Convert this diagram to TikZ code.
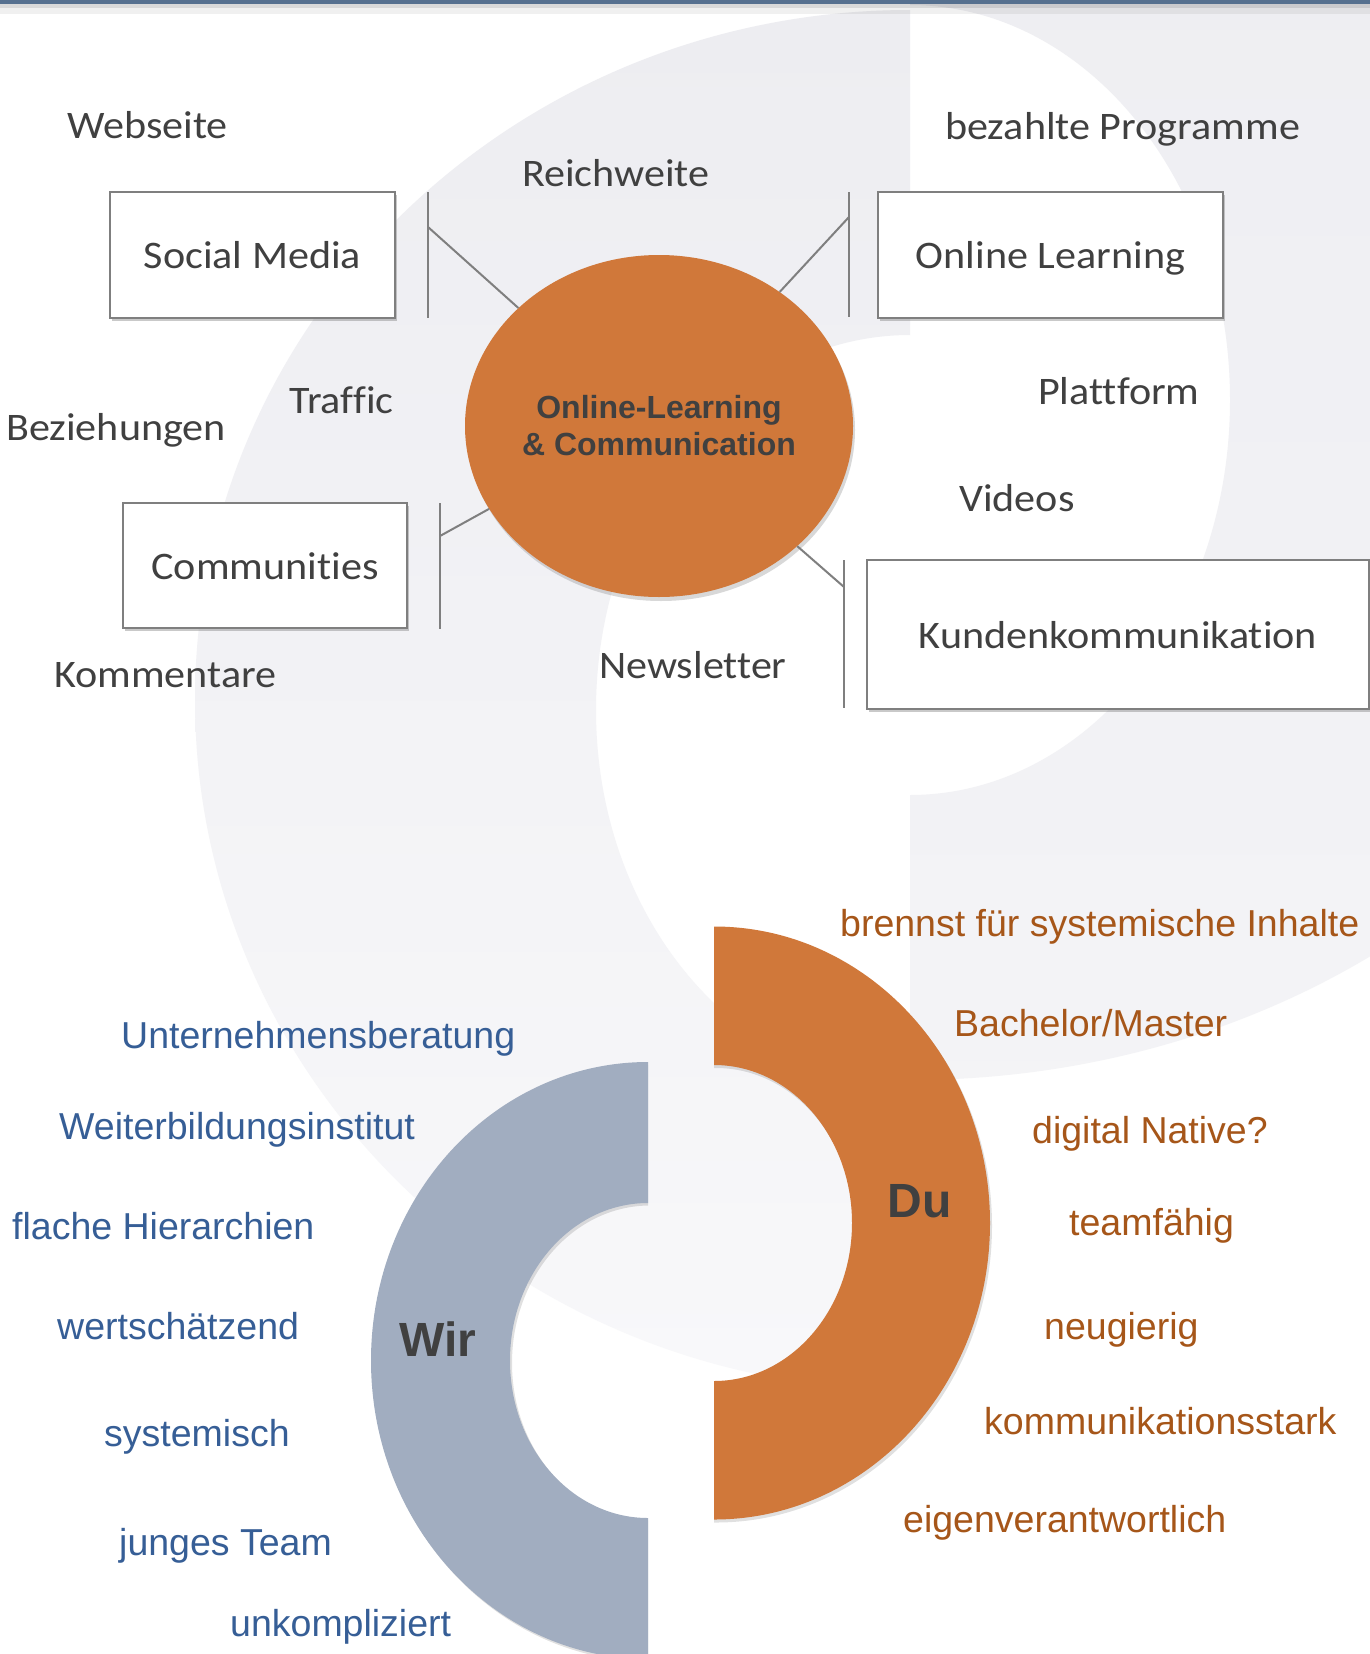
\documentclass[tikz,border=0pt]{standalone}
\usepackage{fontspec}
\usetikzlibrary{shapes.geometric,shadows}
\newfontfamily\calfont[FakeStretch=1.08,Ligatures=NoCommon]{Carlito}
\newfontfamily\arialfont{Liberation Sans}
\definecolor{txtgray}{HTML}{404040}
\definecolor{linegray}{HTML}{7F7F7F}
\definecolor{orangec}{HTML}{D0783A}
\definecolor{wirc}{HTML}{A1ADC0}
\definecolor{bluetxt}{HTML}{365E96}
\definecolor{browntxt}{HTML}{A65619}
\definecolor{bgA}{HTML}{EDEDF1}
\definecolor{bgB}{HTML}{F8F8FA}
\definecolor{topband}{HTML}{56708F}
\begin{document}
\begin{tikzpicture}[x=1pt,y=-1pt,
  lab/.style={font=\calfont\fontsize{39}{47}\selectfont, text=txtgray, anchor=base west, inner sep=0pt},
  blu/.style={font=\arialfont\fontsize{37.5}{45}\selectfont, text=bluetxt, anchor=base west, inner sep=0pt},
  brn/.style={font=\arialfont\fontsize{37.5}{45}\selectfont, text=browntxt, anchor=base west, inner sep=0pt},
  box/.style={draw=linegray, line width=2.2pt, fill=white, inner sep=0pt,
    font=\calfont\fontsize{39}{47}\selectfont, text=txtgray, text height=27pt, text depth=0pt,
    drop shadow={shadow xshift=1.5pt, shadow yshift=-3pt, opacity=0.35, fill=black!60}},
  conn/.style={draw=linegray, line width=2pt},
  big/.style={font=\arialfont\bfseries\fontsize{48}{50}\selectfont, text=txtgray, anchor=base, inner sep=0pt}
]
\useasboundingbox (0,0) rectangle (1370,1654);
\fill[white] (0,0) rectangle (1370,1654);
% background logo
\begin{scope}
  \clip (0,0) rectangle (910,1654);
  \shade[top color=bgA, bottom color=bgB, even odd rule]
    (910,700) ellipse [x radius=715, y radius=690]
    (910,710) ellipse [x radius=314, y radius=375];
\end{scope}
\begin{scope}
  \clip (910,0) rectangle (1370,1654);
  \shade[top color=bgA, bottom color=bgB!60!bgA, even odd rule]
    (910,400) ellipse [x radius=800, y radius=680]
    (910,400) ellipse [x radius=320, y radius=395];
\end{scope}
% top band
\fill[topband] (0,0) rectangle (1370,4);
\fill[black, opacity=0.15] (0,4) rectangle (1370,8);
\fill[black, opacity=0.06] (0,8) rectangle (1370,14);

% labels upper
\node[lab] (webseite) at (67,138) {Webseite};
\node[lab] (reichweite) at (522,186) {Reichweite};
\node[lab] (bezahlt) at (945,139) {bezahlte Programme};
\node[lab] (traffic) at (289,413) {Traffic};
\node[lab] (bezieh) at (6,440) {Beziehungen};
\node[lab] (plattform) at (1038,404) {Plattform};
\node[lab] (videos) at (959,511) {Videos};
\node[lab] (kommentare) at (54,687) {Kommentare};
\node[lab] (newsletter) at (599,678) {Newsletter};

% boxes
\node[box, minimum width=285pt, minimum height=126pt] (social) at (252.5,255) {Social Media};
\node[box, minimum width=345pt, minimum height=126pt] (online) at (1050.5,255) {Online Learning};
\node[box, minimum width=284pt, minimum height=125pt] (commun) at (265,565.5) {Communities};
\node[box, minimum width=502pt, minimum height=149pt] (kunden) at (1118,634.5) {Kundenkommunikation};

% central ellipse
\node[ellipse, fill=orangec, minimum width=388pt, minimum height=342pt, inner sep=0pt,
  drop shadow={shadow xshift=2pt, shadow yshift=-4pt, opacity=0.25, fill=black!60},
  font=\arialfont\bfseries\fontsize{32}{37}\selectfont, text=txtgray, align=center]
  (olc) at (659,426) {Online-Learning\\\& Communication};

% connectors
\coordinate (sbT) at (428,192); \coordinate (sbB) at (428,318); \coordinate (sbJ) at (428,227);
\coordinate (obT) at (849,192); \coordinate (obB) at (849,317); \coordinate (obJ) at (849,217);
\coordinate (cbT) at (440,503); \coordinate (cbB) at (440,629); \coordinate (cbJ) at (440,536);
\coordinate (kbT) at (844,560); \coordinate (kbB) at (844,708); \coordinate (kbJ) at (844,587);
\draw[conn] (sbT) -- (sbB);
\draw[conn] (sbJ) -- (olc.140.8);
\draw[conn] (obT) -- (obB);
\draw[conn] (obJ) -- (olc.48.8);
\draw[conn] (cbT) -- (cbB);
\draw[conn] (cbJ) -- (olc.206.8);
\draw[conn] (kbT) -- (kbB);
\draw[conn] (kbJ) -- (olc.-41);

% Wir ring
\begin{scope}
  \clip (0,0) rectangle (648,1654);
  \fill[black, opacity=0.12, even odd rule]
    (650,1363) ellipse [x radius=277, y radius=298.5]
    (650,1363) ellipse [x radius=138, y radius=157.5];
  \fill[wirc, even odd rule]
    (648,1360.5) ellipse [x radius=277, y radius=298.5]
    (648,1360.5) ellipse [x radius=138, y radius=157.5];
\end{scope}
% Du ring
\begin{scope}
  \clip (714,0) rectangle (1370,1654);
  \fill[black, opacity=0.12, even odd rule]
    (716,1226) ellipse [x radius=276, y radius=296.5]
    (716,1226) ellipse [x radius=138, y radius=158];
  \fill[orangec, even odd rule]
    (714,1223) ellipse [x radius=276, y radius=296.5]
    (714,1223) ellipse [x radius=138, y radius=158];
\end{scope}
\node[big] (wir) at (438,1356) {Wir};
\node[big] (du) at (919.5,1217) {Du};

% blue texts
\node[blu] (t1) at (121,1048) {Unternehmensberatung};
\node[blu] (t2) at (59,1139) {Weiterbildungsinstitut};
\node[blu] (t3) at (12,1239) {flache Hierarchien};
\node[blu] (t4) at (57,1339) {wertschätzend};
\node[blu] (t5) at (104,1446) {systemisch};
\node[blu] (t6) at (119,1555) {junges Team};
\node[blu] (t7) at (230,1636) {unkompliziert};
% brown texts
\node[brn] (r1) at (840,936) {brennst für systemische Inhalte};
\node[brn] (r2) at (954,1036) {Bachelor/Master};
\node[brn] (r3) at (1032,1143) {digital Native?};
\node[brn] (r4) at (1069,1235) {teamfähig};
\node[brn] (r5) at (1044,1339) {neugierig};
\node[brn] (r6) at (984,1434) {kommunikationsstark};
\node[brn] (r7) at (903,1532) {eigenverantwortlich};
\end{tikzpicture}
\end{document}
